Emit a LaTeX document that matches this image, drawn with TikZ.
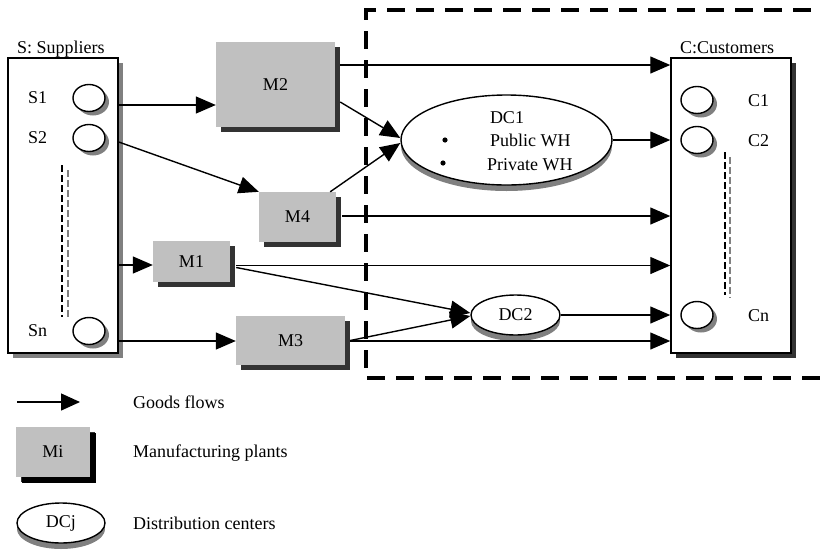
\documentclass[tikz,border=0pt]{standalone}
\usepackage{fontspec}
\setmainfont{Liberation Serif}
\usetikzlibrary{arrows.meta,shapes.geometric,shadows}
\definecolor{boxgray}{HTML}{C0C0C0}
\definecolor{shdark}{HTML}{333333}
\definecolor{shmid}{HTML}{808080}
\begin{document}
\begin{tikzpicture}[x=1pt,y=-1pt,font=\fontsize{18}{21}\selectfont,
  flow/.style={line width=1.4pt,-{Triangle[length=20pt,width=17pt]}},
  mbox/.style={rectangle,fill=boxgray,inner sep=0pt,
    drop shadow={shadow xshift=5pt,shadow yshift=-5pt,fill=shdark,opacity=1}},
  bigbox/.style={rectangle,draw,line width=1.5pt,fill=white,inner sep=0pt,
    drop shadow={shadow xshift=5pt,shadow yshift=-5pt,fill=shmid,opacity=1}},
  small/.style={ellipse,draw,line width=1.4pt,fill=white,inner sep=0pt,
    minimum width=32pt,minimum height=27pt,
    drop shadow={shadow xshift=4pt,shadow yshift=-4pt,fill=shmid,opacity=1}},
  dcell/.style={ellipse,draw,line width=1.4pt,fill=white,inner sep=0pt,
    drop shadow={shadow xshift=0pt,shadow yshift=-6pt,fill=shmid,opacity=1}},
  region/.style={line width=4pt,dash pattern=on 18pt off 11pt},
  dotsblack/.style={line width=1.5pt,dash pattern=on 7pt off 3pt},
  dotsgray/.style={line width=1.5pt,shmid,dash pattern=on 7pt off 3pt},
  txt/.style={inner sep=0pt,anchor=base west}
]
\useasboundingbox (0,0) rectangle (820,555);

% dashed region
\draw[region] (366,18) -- (366,10) -- (822,10);
\draw[region,dash phase=8pt] (366,10) -- (366,378) -- (822,378);

% suppliers
\node[bigbox,minimum width=110pt,minimum height=295pt] (sup) at (63,205.5) {};
\node[txt] (suplab) at (17,53) {S: Suppliers};
\node[small] (s1) at (89,98) {};
\node[small] (s2) at (89,138) {};
\node[small] (sn) at (89,331) {};
\node[txt] (s1l) at (28,103) {S1};
\node[txt] (s2l) at (28,143) {S2};
\node[txt] (snl) at (28,336) {Sn};
\draw[dotsblack] (62,165) -- (62,317);
\draw[dotsgray] (68,170) -- (68,320);

% customers
\node[bigbox,minimum width=120pt,minimum height=295pt,
  drop shadow={shadow xshift=5pt,shadow yshift=-5pt,fill=shdark,opacity=1}] (cus) at (731,205.5) {};
\node[txt] (cuslab) at (680,53) {C:Customers};
\node[small] (c1) at (697,100) {};
\node[small] (c2) at (697,140) {};
\node[small] (cn) at (697,315) {};
\node[txt] (c1l) at (748,106) {C1};
\node[txt] (c2l) at (748,146) {C2};
\node[txt] (cnl) at (748,321) {Cn};
\draw[dotsblack] (725,152) -- (725,295);
\draw[dotsgray] (730,157) -- (730,298);

% plants
\node[mbox,minimum width=119pt,minimum height=85pt] (m2) at (275.5,84.5) {M2};
\node[mbox,minimum width=77pt,minimum height=50pt] (m4) at (297.5,217) {M4};
\node[mbox,minimum width=77pt,minimum height=41pt] (m1) at (191.5,261.5) {M1};
\node[mbox,minimum width=109pt,minimum height=49pt] (m3) at (290.5,340.5) {M3};

% distribution centres
\node[dcell,minimum width=211pt,minimum height=90pt] (dc1) at (506.5,140) {};
\node[inner sep=0pt,anchor=base] (dc1t) at (507,123) {DC1};
\node[txt] (pub) at (490,146) {Public WH};
\node[txt] (pri) at (487,170) {Private WH};
\fill (445,140) circle (2.6pt);
\fill (443,163) circle (2.6pt);
\node[dcell,minimum width=89pt,minimum height=40pt,
  drop shadow={shadow xshift=0pt,shadow yshift=-4pt,fill=shmid,opacity=1}] (dc2) at (515.5,315) {DC2};

% row coordinates
\coordinate (r1) at (0,105);
\coordinate (r2) at (0,142);
\coordinate (r3) at (0,265);
\coordinate (r4) at (0,341);

% flows from suppliers
\draw[flow] (sup.east |- r1) -- (m2.west |- r1);
\draw[flow] (sup.east |- r2) -- (m4.north west);
\draw[flow] (sup.east |- r3) -- (m1.west |- r3);
\draw[flow] (sup.east |- r4) -- (m3.west |- r4);

% flows from plants
\draw[flow] ([xshift=5pt,yshift=19.5pt]m2.east) coordinate (a1) -- (a1 -| cus.west);
\draw[flow] ([xshift=5pt,yshift=-17.5pt]m2.east) -- ([yshift=2pt]dc1.west);
\draw[flow] ([xshift=-6pt]m4.north east) -- ([yshift=-3pt]dc1.west);
\draw[flow] (dc1.east) -- (dc1.east -| cus.west);
\draw[flow] ([xshift=6pt,yshift=1pt]m4.east) coordinate (a2) -- (a2 -| cus.west);
\draw[flow] ([xshift=6pt,yshift=-4pt]m1.east) coordinate (a3) -- (a3 -| cus.west);
\draw[flow] ([xshift=6pt,yshift=-6pt]m1.east) -- ([yshift=2pt]dc2.west);
\draw[flow] ([xshift=5pt]m3.east) -- ([yshift=-1pt]dc2.west);
\draw[flow] ([xshift=5pt,yshift=-0.5pt]m3.east) coordinate (a4) -- (a4 -| cus.west);
\draw[flow] (dc2.east) -- (dc2.east -| cus.west);

% legend
\coordinate (la) at (17,402);
\coordinate (lb) at (80,402);
\draw[line width=1.4pt,-{Triangle[length=19pt,width=17pt]}] (la) -- (lb);
\node[txt] (lg1) at (133,408) {Goods flows};
\node[mbox,minimum width=74pt,minimum height=50pt,
  drop shadow={shadow xshift=6pt,shadow yshift=-6pt,fill=black,opacity=1}] (mi) at (53,452) {Mi};
\node[txt] (lg2) at (133,457) {Manufacturing plants};
\node[dcell,minimum width=88pt,minimum height=40pt,
  drop shadow={shadow xshift=0pt,shadow yshift=-5pt,fill=shmid,opacity=1}] (dcj) at (61,523) {DCj};
\node[txt] (lg3) at (133,529) {Distribution centers};
\end{tikzpicture}
\end{document}
